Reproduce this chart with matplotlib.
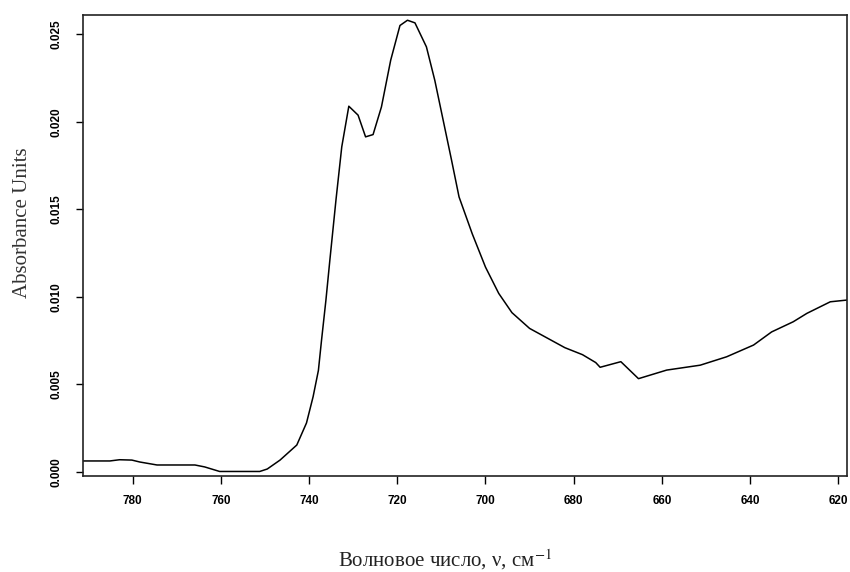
"""IR absorbance spectrum, 620-790 cm-1 region."""

import matplotlib

matplotlib.use("Agg")
import matplotlib.pyplot as plt
import numpy as np

# wavenumber (cm-1) and absorbance
wavenumber = [
    791.3, 785.2, 783.0, 780.2, 778.4, 774.5, 765.9, 763.7, 760.3, 751.2,
    749.5, 746.6, 742.8, 740.6, 739.1, 737.9, 737.2, 736.2, 735.3, 733.9,
    732.6, 731.0, 728.9, 727.2, 725.5, 723.6, 721.5, 719.4, 717.7, 716.0,
    713.4, 711.5, 709.6, 707.7, 706.0, 703.0, 700.0, 697.0, 694.0, 690.0,
    686.0, 682.0, 678.0, 675.0, 674.0, 669.3, 665.3, 658.9, 651.3, 645.3,
    639.2, 635.1, 630.2, 627.1, 621.8, 618.0,
]
absorbance = [
    0.00063, 0.00063, 0.00070, 0.00068, 0.00057, 0.00040, 0.00040, 0.00029, 0.00003, 0.00003,
    0.00017, 0.00068, 0.00154, 0.00280, 0.00430, 0.00580, 0.00750, 0.00980, 0.01210, 0.01557,
    0.01857, 0.02089, 0.02038, 0.01914, 0.01927, 0.02085, 0.02352, 0.02550, 0.02580, 0.02565,
    0.02428, 0.02237, 0.02009, 0.01781, 0.01571, 0.01360, 0.01170, 0.01020, 0.00910, 0.00820,
    0.00765, 0.00710, 0.00670, 0.00625, 0.00598, 0.00630, 0.00533, 0.00582, 0.00610, 0.00658,
    0.00725, 0.00800, 0.00858, 0.00906, 0.00972, 0.00982,
]
x_ticks = [780, 760, 740, 720, 700, 680, 660, 640, 620]
y_ticks = [0.000, 0.005, 0.010, 0.015, 0.020, 0.025]
y_tick_labels = ["0.000", "0.005", "0.010", "0.015", "0.020", "0.025"]


def main() -> None:
    plt.rcParams["mathtext.fontset"] = "stix"
    fig = plt.figure(figsize=(8.5, 5.72), dpi=100)
    ax = fig.add_axes([0.0976, 0.1678, 0.8989, 0.806])
    ax.plot(wavenumber, absorbance, color="black", lw=1.1)

    ax.set_xlim(791.3, 618.0)
    ax.set_ylim(-0.00023, 0.0261)
    ax.set_xticks(x_ticks)
    ax.set_yticks(y_ticks)
    ax.set_yticklabels(y_tick_labels, rotation=90, va="center")

    for label in ax.get_xticklabels() + ax.get_yticklabels():
        label.set_fontfamily("Liberation Sans")
        label.set_fontweight("bold")
        label.set_fontsize(8.5)
    ax.tick_params(axis="x", direction="out", length=6, width=1, pad=8)
    ax.tick_params(axis="y", direction="out", length=5, width=1, pad=10)
    for spine in ax.spines.values():
        spine.set_linewidth(1.2)
        spine.set_color("#222222")

    label_font = {"family": "Liberation Serif", "size": 15}
    fig.text(0.026, 0.61, "Absorbance Units", rotation=90, ha="center", va="center",
             color="#333333", **label_font)
    fig.text(0.523, 0.022, "Волновое число, ν, см$^{-1}$", ha="center", va="center",
             color="#222222", **label_font)

    fig.savefig("out.png", dpi=100)
    plt.close(fig)


if __name__ == "__main__":
    main()
